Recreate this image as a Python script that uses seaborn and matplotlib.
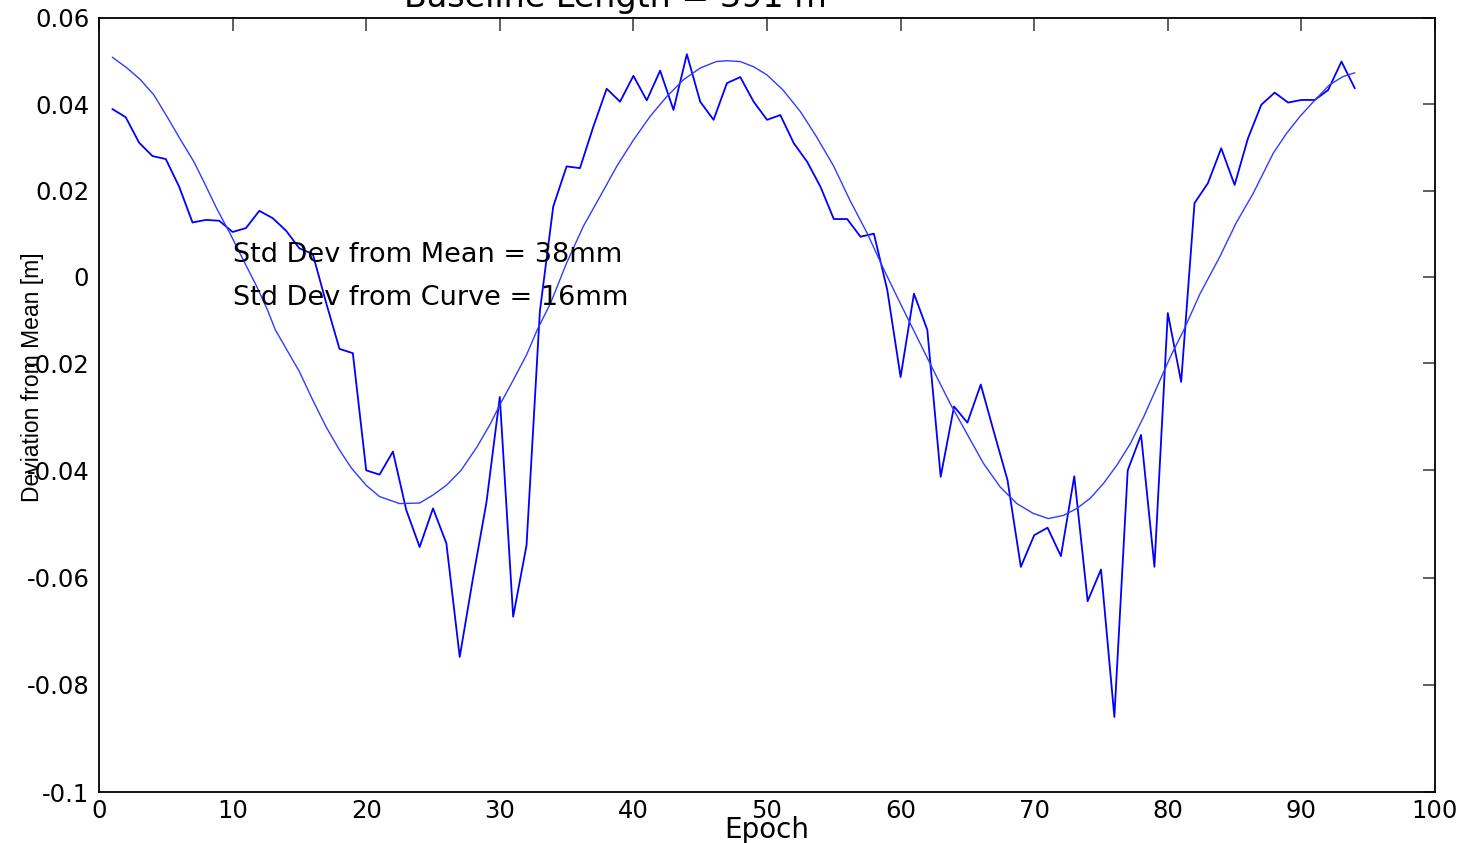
import numpy as np
import pandas as pd
import matplotlib
matplotlib.use("Agg")
import matplotlib.pyplot as plt
import seaborn as sns
from matplotlib.ticker import FixedLocator, FixedFormatter

# ---- data ----
epochs = list(range(1, 95))
deviation = [0.0389, 0.0370, 0.0311, 0.0280, 0.0273, 0.0209, 0.0126, 0.0132, 0.0130, 0.0104,
             0.0113, 0.0153, 0.0136, 0.0107, 0.0066, 0.0053, -0.0060, -0.0167, -0.0177, -0.0400,
             -0.0408, -0.0365, -0.0474, -0.0543, -0.0471, -0.0536, -0.0748, -0.0600, -0.0460, -0.0263,
             -0.0673, -0.0540, -0.0080, 0.0163, 0.0256, 0.0252, 0.0348, 0.0436, 0.0406, 0.0466,
             0.0409, 0.0478, 0.0387, 0.0516, 0.0406, 0.0364, 0.0449, 0.0463, 0.0406, 0.0364,
             0.0375, 0.0310, 0.0267, 0.0209, 0.0134, 0.0134, 0.0093, 0.0100, -0.0030, -0.0226,
             -0.0039, -0.0123, -0.0412, -0.0281, -0.0311, -0.0240, -0.0330, -0.0418, -0.0580, -0.0521,
             -0.0507, -0.0560, -0.0411, -0.0644, -0.0585, -0.0860, -0.0400, -0.0334, -0.0580, -0.0084,
             -0.0235, 0.0171, 0.0217, 0.0298, 0.0213, 0.0321, 0.0399, 0.0427, 0.0404, 0.0410,
             0.0410, 0.0433, 0.0499, 0.0437]

curve_epoch = [1.0, 2.1, 3.1, 4.1, 5.1, 6.1, 7.1, 7.9, 8.8, 9.8,
               10.8, 11.8, 12.6, 13.2, 15.0, 16.0, 17.0, 18.0, 18.9, 20.0,
               21.0, 22.5, 24.0, 25.0, 26.0, 27.1, 28.3, 29.3, 30.0, 31.0,
               32.0, 32.8, 33.8, 35.0, 36.25, 37.5, 38.75, 40.0, 41.25, 42.5,
               43.75, 45.0, 46.2, 47.0, 48.0, 49.0, 50.0, 51.2, 52.5, 53.7,
               55.0, 56.2, 57.5, 58.7, 60.0, 61.2, 62.45, 63.7, 64.95, 66.2,
               67.45, 68.7, 69.9, 71.05, 72.2, 73.2, 74.2, 75.2, 76.2, 77.2,
               78.2, 79.2, 80.2, 81.2, 82.4, 83.9, 85.1, 86.4, 87.9, 88.9,
               89.9, 90.9, 92.1, 93.1, 94.0]
curve_value = [0.0509, 0.0484, 0.0457, 0.0422, 0.0371, 0.0318, 0.0267, 0.0217, 0.0159, 0.0101,
               0.0039, -0.0022, -0.0076, -0.0123, -0.0216, -0.0269, -0.0319, -0.0362, -0.0396, -0.0428,
               -0.0449, -0.0462, -0.0461, -0.0446, -0.0428, -0.0400, -0.0356, -0.0313, -0.0278, -0.0232,
               -0.0181, -0.0123, -0.0061, 0.0032, 0.0117, 0.0186, 0.0256, 0.0317, 0.0372, 0.0418,
               0.0457, 0.0484, 0.0499, 0.0501, 0.0499, 0.0487, 0.0468, 0.0433, 0.0383, 0.0325,
               0.0256, 0.0178, 0.0101, 0.0020, -0.0063, -0.0138, -0.0213, -0.0275, -0.0331, -0.0387,
               -0.0431, -0.0462, -0.0480, -0.0490, -0.0484, -0.0471, -0.0452, -0.0424, -0.0390, -0.0350,
               -0.0300, -0.0244, -0.0185, -0.0123, -0.0040, 0.0047, 0.0124, 0.0194, 0.0287, 0.0333,
               0.0372, 0.0406, 0.0445, 0.0464, 0.0473]

x_ticks = [0, 10, 20, 30, 40, 50, 60, 70, 80, 90, 100]
y_ticks = [-0.1, -0.08, -0.06, -0.04, -0.02, 0, 0.02, 0.04, 0.06]
y_tick_labels = ["-0.1", "-0.08", "-0.06", "-0.04", "-0.02", "0", "0.02", "0.04", "0.06"]

title_text = "Baseline Length = 391 m"
note_mean = "Std Dev from Mean = 38mm"
note_curve = "Std Dev from Curve = 16mm"

df_data = pd.DataFrame({"Epoch": epochs, "Deviation": deviation})
df_curve = pd.DataFrame({"Epoch": curve_epoch, "Deviation": curve_value})

# ---- style ----
sns.set_theme(style="white")
plt.rcParams["font.family"] = ["DejaVu Sans"]
plt.rcParams["text.color"] = "black"
plt.rcParams["axes.labelcolor"] = "black"

fig = plt.figure(figsize=(14.64, 8.43), dpi=100)
ax = fig.add_axes([99 / 1464, 1 - 792 / 843, (1435 - 99) / 1464, (792 - 18) / 843])

# the reference's vertical axis is stretched below -0.02
K = 107.25 / 86.3


def fwd(y):
    y = np.asarray(y, dtype=float)
    return np.where(y >= -0.02, y, -0.02 + (y + 0.02) * K)


def inv(v):
    v = np.asarray(v, dtype=float)
    return np.where(v >= -0.02, v, -0.02 + (v + 0.02) / K)


ax.set_yscale("function", functions=(fwd, inv))

blue = "#0000ff"
sns.lineplot(data=df_data, x="Epoch", y="Deviation", ax=ax, color=blue,
             linewidth=1.3, sort=False, estimator=None)
sns.lineplot(data=df_curve, x="Epoch", y="Deviation", ax=ax, color="#2f3cff",
             linewidth=1.0, sort=False, estimator=None)

ax.set_xlim(0, 100)
ax.set_ylim(-0.1, 0.06)
ax.xaxis.set_major_locator(FixedLocator(x_ticks))
ax.yaxis.set_major_locator(FixedLocator(y_ticks))
ax.yaxis.set_major_formatter(FixedFormatter(y_tick_labels))
ax.yaxis.set_minor_locator(FixedLocator([]))

ax.tick_params(axis="both", which="major", direction="in", length=9, width=1.2,
               color="#444444", labelsize=17.5, top=True, right=True,
               labelcolor="black")
ax.tick_params(axis="x", pad=5)
ax.tick_params(axis="y", pad=7)
for s in ax.spines.values():
    s.set_visible(True)
    s.set_color("black")
    s.set_linewidth(1.3)

ax.set_xlabel("Epoch", fontsize=20, labelpad=-5)
ax.set_ylabel("Deviation from Mean [m]", fontsize=16.5, family=["Liberation Sans", "DejaVu Sans"])
ax.yaxis.set_label_coords(-0.041, 0.536)

ax.text(10, 0.005, note_mean, fontsize=19.5, ha="left", va="center")
ax.text(10, -0.005, note_curve, fontsize=19.5, ha="left", va="center")

fig.text(615 / 1464, 1 - 7 / 843, title_text, fontsize=24, ha="center", va="baseline")

fig.savefig("out.png", dpi=100)
